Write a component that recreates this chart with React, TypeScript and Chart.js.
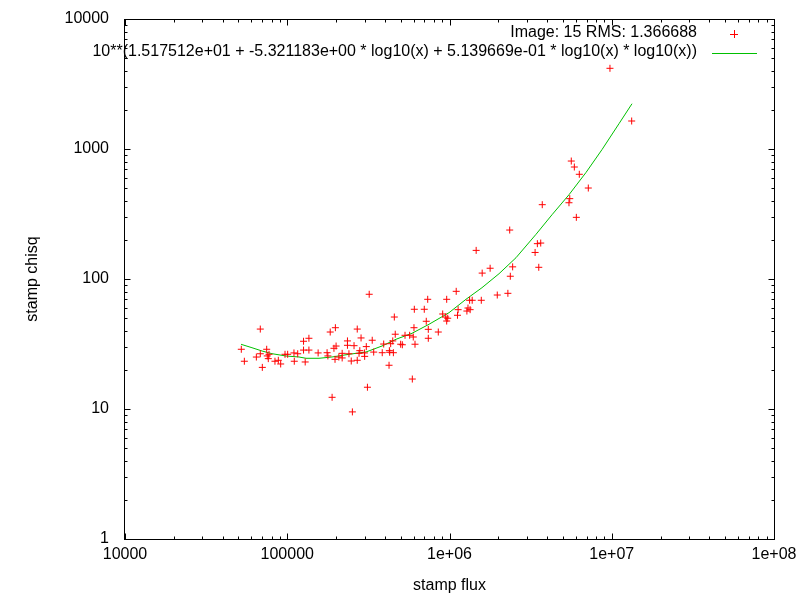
import { useEffect, useRef } from "react"
import { Chart, registerables } from "chart.js"

Chart.register(...registerables)

// measured points (stamp flux vs stamp chisq)
const fluxValues = [
  9.75e6, 1.327e7, 5.63e6, 5.88e6, 6.31e6, 7.17e6, 5.51e6, 5.45e6, 3.73e6, 6.05e6,
  3.48e6, 3.65e6, 3.37e6, 3.55e6, 2.35e6, 1.46e6, 2.45e6, 1.78e6, 1.59e6, 2.37e6,
  1.1e6, 1.97e6, 2.29e6, 7.34e5, 9.61e5, 1.33e6, 1.38e6, 1.57e6, 6.07e5, 6.99e5,
  1.13e6, 1.3e6, 1.34e6, 1.28e6, 9.08e5, 9.48e5, 9.75e5, 9.61e5, 1.12e6, 7.19e5,
  6.04e5, 7.4e5, 8.53e5, 5.32e5, 5.68e5, 5.98e5, 7.4e5, 5.0e5, 5.12e5, 6.13e5,
  5.9e5, 3.2e5, 4.57e5, 1.98e5, 1.84e5, 2.7e5, 1.26e5, 1.36e5, 4.63e5, 2.85e5,
  3.34e5, 2.35e5, 2.35e5, 2.0e5, 1.94e5, 2.58e5, 3.07e5, 3.93e5, 4.47e5, 4.34e5,
  1.26e5, 1.36e5, 1.55e5, 1.76e5, 1.78e5, 1.97e5, 2.08e5, 2.18e5, 2.18e5, 2.4e5,
  2.8e5, 2.77e5, 3.0e5, 2.99e5, 3.41e5, 3.85e5, 4.28e5, 4.51e5, 4.26e5, 2.48e5,
  2.7e5, 1.29e5, 4.24e5, 3.12e5, 1.89e5, 2.52e5, 6.82e4, 5.21e4, 7.47e4, 6.82e4,
  7.72e4, 7.53e4, 6.45e4, 9.69e4, 1.006e5, 1.1e5, 1.16e5, 7.64e4, 5.44e4, 8.4e4,
  8.81e4, 9.11e4, 1.105e5, 7.02e4,
]
const chisqValues = [
  4176, 1642, 808, 727, 639, 501, 415, 386, 373, 298,
  187, 189, 160, 123, 238, 166, 124, 121, 111, 105,
  80.4, 75.3, 77.6, 69.8, 69.8, 68.6, 68.6, 68.6, 58.5, 58.5,
  58.1, 59.8, 58.1, 56.7, 53.8, 51.0, 49.9, 47.5, 52.6, 47.3,
  42.2, 41.0, 39.1, 36.9, 36.9, 35.8, 35.0, 31.5, 31.2, 31.5,
  17.0, 76.3, 51.0, 42.2, 39.1, 41.2, 33.2, 35.0, 37.6, 35.2,
  33.8, 33.4, 30.9, 30.5, 29.3, 30.7, 30.2, 31.6, 33.4, 31.8,
  28.4, 28.4, 27.0, 27.1, 25.6, 24.1, 25.1, 26.8, 24.7, 26.6,
  28.1, 26.8, 25.4, 27.0, 27.4, 27.1, 27.3, 27.1, 28.1, 23.4,
  23.7, 23.0, 21.7, 14.7, 12.3, 9.5, 41.2, 28.8, 28.8, 26.6,
  26.35, 25.6, 25.1, 26.35, 26.35, 27.0, 26.6, 24.4, 23.3, 23.3,
  23.7, 22.2, 23.3, 20.9,
]

// fitted curve
const fitFlux = [
  51900, 60600, 69900, 80500, 98200, 118100, 130500, 156900, 188700, 240200,
  305800, 383700, 468200, 587300, 747600, 992900, 1264000, 1586000, 2019000, 2570000,
  3414000, 4282000, 5452000, 6941000, 8710000, 11080000, 13330000,
]
const fitChisq = [
  31.46, 29.61, 27.94, 26.64, 25.57, 25.12, 24.55, 24.55, 25.12, 26.35,
  27.45, 30.52, 34.38, 38.22, 44.83, 55.06, 69.81, 85.75, 109.8, 145.8,
  220.7, 312, 445, 660, 990, 1565, 2230,
]

const xTickValues = [1e4, 1e5, 1e6, 1e7, 1e8]
const xTickLabels = ["10000", "100000", "1e+06", "1e+07", "1e+08"]
const yTickValues = [1, 10, 100, 1000, 10000]
const yTickLabels = ["1", "10", "100", "1000", "10000"]

const pointsLabel = "Image: 15 RMS: 1.366688"
const fitLabel =
  "10**(1.517512e+01 + -5.321183e+00 * log10(x) + 5.139669e-01 * log10(x) * log10(x))"

const FONT = "Liberation Sans, Arial, sans-serif"
const RED = "#ff0000"
const GREEN = "#00c000"

// border, inward ticks on all sides, and the key (gnuplot style)
const framePlugin = {
  id: "gnuplotFrame",
  afterDraw(chart: any) {
    const { ctx, chartArea, scales } = chart
    const xs = scales.x
    const ys = scales.y
    const L = Math.round(chartArea.left) - 0.5
    const R = Math.round(chartArea.right) + 0.5
    const T = Math.round(chartArea.top) + 0.5
    const B = Math.round(chartArea.bottom) + 0.5

    ctx.save()
    ctx.strokeStyle = "#000"
    ctx.lineWidth = 1
    ctx.strokeRect(L, T, R - L, B - T)

    ctx.beginPath()
    for (let d = 4; d <= 8; d++) {
      for (let m = 1; m <= 9; m++) {
        const v = m * Math.pow(10, d)
        if (v > 1e8) break
        const px = Math.round(xs.getPixelForValue(v)) + 0.5
        const len = m === 1 ? 6 : 3
        ctx.moveTo(px, B)
        ctx.lineTo(px, B - len)
        ctx.moveTo(px, T)
        ctx.lineTo(px, T + len)
      }
    }
    for (let d = 0; d <= 4; d++) {
      for (let m = 1; m <= 9; m++) {
        const v = m * Math.pow(10, d)
        if (v > 1e4) break
        const py = Math.round(ys.getPixelForValue(v)) + 0.5
        const len = m === 1 ? 6 : 3
        ctx.moveTo(L, py)
        ctx.lineTo(L + len, py)
        ctx.moveTo(R, py)
        ctx.lineTo(R - len, py)
      }
    }
    ctx.stroke()

    // key
    ctx.font = `16px ${FONT}`
    ctx.fillStyle = "#000"
    ctx.textAlign = "right"
    ctx.textBaseline = "middle"
    ctx.fillText(pointsLabel, 697, 33)
    ctx.fillText(fitLabel, 697, 52)

    ctx.strokeStyle = RED
    ctx.beginPath()
    ctx.moveTo(730, 34.5)
    ctx.lineTo(738, 34.5)
    ctx.moveTo(734.5, 30)
    ctx.lineTo(734.5, 38)
    ctx.stroke()

    ctx.strokeStyle = GREEN
    ctx.beginPath()
    ctx.moveTo(712, 53.5)
    ctx.lineTo(757, 53.5)
    ctx.stroke()
    ctx.restore()
  },
}

// keep the plot box where gnuplot put it: no extra room for overhanging labels
const noScalePadding = (s: any) => {
  s.paddingTop = 0
  s.paddingBottom = 0
  s.paddingLeft = 0
  s.paddingRight = 0
}

export default function App() {
  const canvasRef = useRef<HTMLCanvasElement>(null)
  const chartRef = useRef<Chart | null>(null)

  useEffect(() => {
    if (!canvasRef.current) return
    if (chartRef.current) chartRef.current.destroy()

    const points = fluxValues.map((x, i) => ({ x, y: chisqValues[i] }))
    const fit = fitFlux.map((x, i) => ({ x, y: fitChisq[i] }))

    chartRef.current = new Chart(canvasRef.current, {
      type: "scatter",
      data: {
        datasets: [
          {
            label: pointsLabel,
            data: points,
            pointStyle: "cross",
            pointRadius: 3.5,
            pointBorderWidth: 1,
            borderColor: RED,
            backgroundColor: RED,
            showLine: false,
          },
          {
            label: fitLabel,
            data: fit,
            showLine: true,
            pointRadius: 0,
            borderColor: GREEN,
            borderWidth: 1,
            tension: 0,
          },
        ],
      },
      options: {
        responsive: false,
        animation: false,
        devicePixelRatio: 1,
        layout: { padding: { left: 0, top: 19, right: 26, bottom: 0 } },
        plugins: {
          legend: { display: false },
          tooltip: { enabled: false },
        },
        scales: {
          x: {
            type: "logarithmic",
            position: "bottom",
            min: 1e4,
            max: 1e8,
            grid: { display: false, drawTicks: false },
            border: { display: false },
            afterBuildTicks: (s: any) => {
              s.ticks = xTickValues.map((value) => ({ value }))
            },
            afterFit: (s: any) => {
              s.height = 61
              noScalePadding(s)
            },
            ticks: {
              autoSkip: false,
              maxRotation: 0,
              padding: 6,
              color: "#000",
              font: { family: FONT, size: 16 },
              callback: (v: any) => xTickLabels[xTickValues.indexOf(Number(v))] ?? "",
            },
            title: {
              display: true,
              text: "stamp flux",
              color: "#000",
              font: { family: FONT, size: 16 },
              padding: { top: 0, bottom: 5 },
            },
          },
          y: {
            type: "logarithmic",
            position: "left",
            min: 1,
            max: 1e4,
            grid: { display: false, drawTicks: false },
            border: { display: false },
            afterBuildTicks: (s: any) => {
              s.ticks = yTickValues.map((value) => ({ value }))
            },
            afterFit: (s: any) => {
              s.width = 125
              noScalePadding(s)
            },
            ticks: {
              autoSkip: false,
              padding: 16,
              color: "#000",
              font: { family: FONT, size: 16 },
              callback: (v: any) => yTickLabels[yTickValues.indexOf(Number(v))] ?? "",
            },
            title: {
              display: true,
              text: "stamp chisq",
              color: "#000",
              font: { family: FONT, size: 16 },
              padding: { top: 23, bottom: 0 },
            },
          },
        },
      },
      plugins: [framePlugin],
    } as any)

    return () => {
      if (chartRef.current) chartRef.current.destroy()
      chartRef.current = null
    }
  }, [])

  return (
    <div style={{ position: "fixed", left: 0, top: 0, width: 800, height: 600, background: "#fff" }}>
      <canvas ref={canvasRef} width={800} height={600} />
    </div>
  )
}
